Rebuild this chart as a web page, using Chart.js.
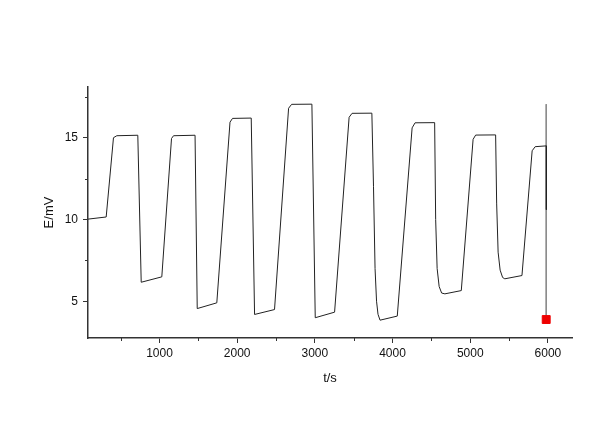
<!DOCTYPE html>
<html>
<head>
<meta charset="utf-8">
<script src="https://cdn.jsdelivr.net/npm/chart.js@4/dist/chart.umd.min.js"></script>
<style>
  html, body { margin: 0; padding: 0; background: #fff; }
  #wrap { width: 600px; height: 423px; }
</style>
</head>
<body>
<div id="wrap"><canvas id="chart"></canvas></div>
<script>
// time (s) and potential (mV)
const timeS = [80, 314, 408, 451, 721, 765, 1030, 1155, 1181, 1458, 1486, 1738,
  1908, 1940, 2181, 2224, 2481, 2662, 2701, 2962, 3005, 3254, 3441, 3479, 3734,
  3755, 3775, 3794, 3813, 3839, 4061, 4252, 4290, 4542, 4555, 4574, 4600, 4632, 4674, 4885,
  5037, 5070, 5327, 5340, 5359, 5385, 5417, 5445, 5666, 5797, 5836, 5980, 5980];
const potentialMV = [10.02, 10.15, 15.0, 15.12, 15.15, 6.16, 6.49, 14.95, 15.12, 15.15, 4.55, 4.90,
  15.95, 16.18, 16.2, 4.19, 4.49, 16.8, 17.04, 17.05, 3.99, 4.33, 16.25, 16.49, 16.5,
  12.0, 7.0, 5.0, 4.2, 3.84, 4.09, 15.6, 15.91, 15.92, 10.0, 7.0, 5.9, 5.5, 5.45, 5.65,
  14.9, 15.16, 15.17, 11.0, 8.0, 6.9, 6.45, 6.37, 6.57, 14.2, 14.45, 14.5, 10.6];

// cursor line with its marker
const cursorT = [5978, 5978];
const cursorE = [17.05, 3.88];

const xRange = [80, 6310];
const yRange = [2.75, 18.1];
const xTickValues = [500, 1000, 1500, 2000, 2500, 3000, 3500, 4000, 4500, 5000, 5500, 6000];
const xTickLabels = ['', '1000', '', '2000', '', '3000', '', '4000', '', '5000', '', '6000'];
const yTickValues = [5, 7.5, 10, 12.5, 15, 17.5];
const yTickLabels = ['5', '', '10', '', '15', ''];

const axisColor = '#333';

const minorTicks = {
  id: 'minorTicks',
  afterDraw(chart) {
    const ctx = chart.ctx;
    ctx.save();
    ctx.strokeStyle = axisColor;
    ctx.lineWidth = 1;
    const xs = chart.scales.x, ys = chart.scales.y;
    xTickValues.forEach((v, i) => {
      if (xTickLabels[i]) return;
      const px = Math.round(xs.getPixelForValue(v)) + 0.5;
      ctx.beginPath(); ctx.moveTo(px, xs.top); ctx.lineTo(px, xs.top + 3); ctx.stroke();
    });
    yTickValues.forEach((v, i) => {
      if (yTickLabels[i]) return;
      const py = Math.round(ys.getPixelForValue(v)) + 0.5;
      ctx.beginPath(); ctx.moveTo(ys.right, py); ctx.lineTo(ys.right - 3, py); ctx.stroke();
    });
    ctx.restore();
  }
};

const majorColor = labels => c => (labels[c.index] ? axisColor : 'rgba(0,0,0,0)');
const font = { family: 'Liberation Sans, Arial, sans-serif', size: 12 };

new Chart(document.getElementById('chart'), {
  type: 'line',
  data: {
    datasets: [
      {
        data: timeS.map((t, i) => ({ x: t, y: potentialMV[i] })),
        borderColor: '#222',
        borderWidth: 1,
        pointRadius: 0,
        tension: 0
      },
      {
        data: cursorT.map((t, i) => ({ x: t, y: cursorE[i] })),
        borderColor: '#8a8a8a',
        borderWidth: 1,
        pointStyle: 'rect',
        pointRadius: [0, 5.6],
        pointBackgroundColor: '#ee0000',
        pointBorderColor: '#ee0000',
        pointBorderWidth: 1
      }
    ]
  },
  options: {
    responsive: true,
    maintainAspectRatio: false,
    animation: false,
    layout: { padding: { left: 0, right: 28, top: 87, bottom: 0 } },
    plugins: { legend: { display: false }, tooltip: { enabled: false } },
    scales: {
      x: {
        type: 'linear',
        min: xRange[0],
        max: xRange[1],
        afterBuildTicks: s => { s.ticks = xTickValues.map(v => ({ value: v })); },
        afterFit: s => { s.height = 85; },
        border: { display: true, color: axisColor, width: 1.5 },
        grid: { drawOnChartArea: false, tickLength: 5, tickColor: majorColor(xTickLabels) },
        ticks: {
          maxRotation: 0,
          autoSkip: false,
          padding: 3,
          color: '#111',
          font,
          callback: (v, i) => xTickLabels[i]
        },
        title: {
          display: true,
          text: 't/s',
          color: '#111',
          font: { family: font.family, size: 13 },
          padding: { top: 0, bottom: 37 }
        }
      },
      y: {
        type: 'linear',
        min: yRange[0],
        max: yRange[1],
        afterBuildTicks: s => { s.ticks = yTickValues.map(v => ({ value: v })); },
        afterFit: s => { s.width = 88; },
        border: { display: true, color: axisColor, width: 1.5 },
        grid: { drawOnChartArea: false, tickLength: 5, tickColor: majorColor(yTickLabels) },
        ticks: {
          autoSkip: false,
          padding: 5,
          color: '#111',
          font,
          callback: (v, i) => yTickLabels[i]
        },
        title: {
          display: true,
          text: 'E/mV',
          color: '#111',
          font: { family: font.family, size: 13 },
          padding: { top: 42, bottom: 0 }
        }
      }
    }
  },
  plugins: [minorTicks]
});
</script>
</body>
</html>
